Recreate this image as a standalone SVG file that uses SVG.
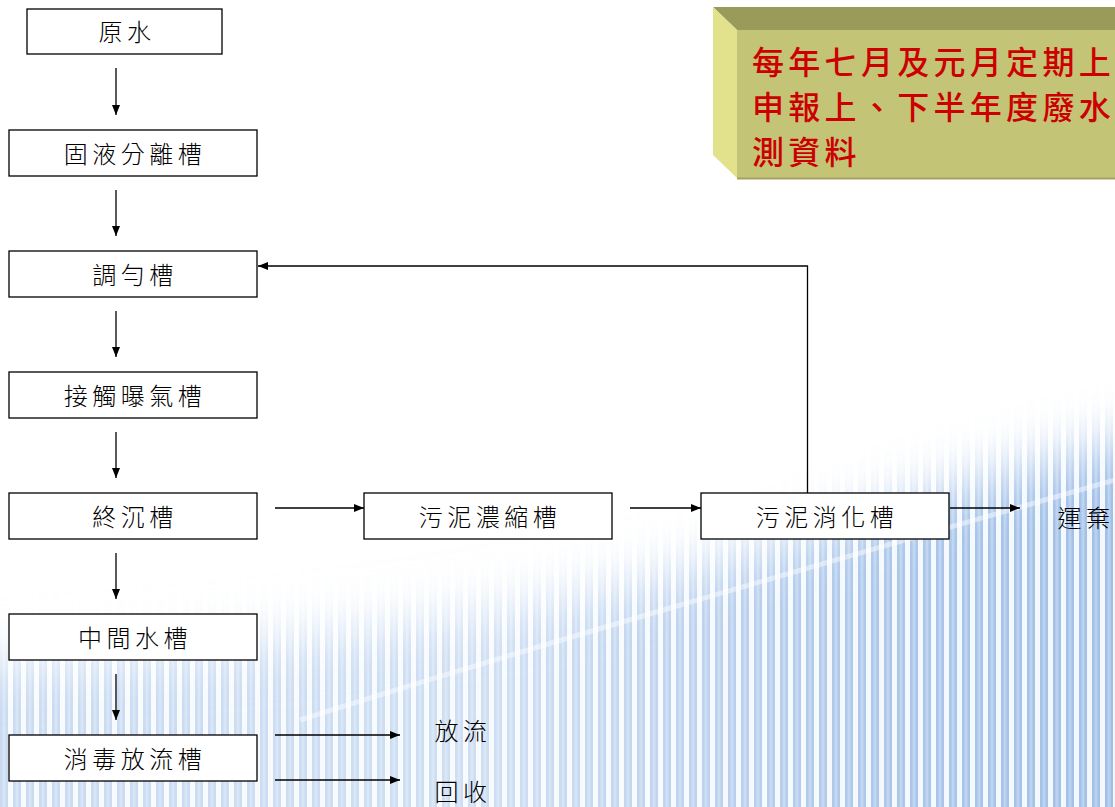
<svg xmlns="http://www.w3.org/2000/svg" width="1115" height="807" viewBox="0 0 1115 807">
<style>
.box{fill:#ffffff;stroke:#000;stroke-width:1.3}
.lbl{font-family:"Noto Sans CJK TC","Noto Sans CJK SC",sans-serif;font-size:24px;font-weight:300;fill:#000;letter-spacing:4.5px;text-anchor:middle}
.ln{fill:none;stroke:#000;stroke-width:1.3}
.call{font-family:"Noto Sans CJK TC","Noto Sans CJK SC",sans-serif;font-size:32px;font-weight:500;fill:#cc0000;letter-spacing:4.3px}
</style>
<defs>
<marker id="ah" viewBox="0 0 10 8" refX="10" refY="4" markerWidth="10" markerHeight="8" markerUnits="userSpaceOnUse" orient="auto">
<path d="M0,0 L10,4 L0,8 Z" fill="#000"/>
</marker>
<pattern id="stripes" width="13" height="20" patternUnits="userSpaceOnUse">
<rect width="13" height="20" fill="#f2f8fd"/>
<rect x="0" width="8" height="20" fill="#9dbce6"/>
<rect x="2.5" width="3" height="20" fill="#b6cfef"/>
</pattern>
<linearGradient id="fadeX" x1="0" y1="0" x2="1" y2="0">
<stop offset="0" stop-color="#fff" stop-opacity="0.55"/>
<stop offset="0.45" stop-color="#fff" stop-opacity="0.5"/>
<stop offset="0.8" stop-color="#fff" stop-opacity="0.85"/>
<stop offset="1" stop-color="#fff" stop-opacity="0.95"/>
</linearGradient>
<filter id="soft" x="-0.2" y="-0.5" width="1.4" height="2">
<feGaussianBlur stdDeviation="28"/>
</filter>
<mask id="shapeMask" maskUnits="userSpaceOnUse" x="0" y="0" width="1115" height="807">
<path d="M-100,670 C250,650 450,625 650,580 C820,535 980,465 1215,425 L1215,900 L-100,900 Z" fill="#fff" filter="url(#soft)"/>
</mask>
<mask id="xMask" maskUnits="userSpaceOnUse" x="0" y="0" width="1115" height="807">
<rect width="1115" height="807" fill="url(#fadeX)"/>
</mask>
</defs>
<rect width="1115" height="807" fill="#ffffff"/>
<g id="background" mask="url(#shapeMask)">
<rect x="0" y="380" width="1115" height="427" fill="url(#stripes)" mask="url(#xMask)"/>
<path d="M300,720 C520,650 800,570 1115,480" fill="none" stroke="#ffffff" stroke-width="5" opacity="0.45"/>
</g>
<g id="callout">
<polygon points="713,7 1115,7 1115,30 737,30" fill="#9a9a5a"/>
<polygon points="713,7 737,30 737,178 713,155" fill="#e2e28c"/>
<rect x="737" y="30" width="378" height="148" fill="#c4c476"/>
<line x1="737" y1="178.5" x2="1115" y2="178.5" stroke="#a3a35e" stroke-width="2"/>
<text class="call" x="752" y="74">每年七月及元月定期上</text>
<text class="call" x="752" y="119">申報上、下半年度廢水</text>
<text class="call" x="752" y="164">測資料</text>
</g>
<g id="connectors">
<line class="ln" x1="116" y1="68" x2="116" y2="115" marker-end="url(#ah)"/>
<line class="ln" x1="116" y1="190" x2="116" y2="236" marker-end="url(#ah)"/>
<line class="ln" x1="116" y1="311" x2="116" y2="357" marker-end="url(#ah)"/>
<line class="ln" x1="116" y1="432" x2="116" y2="478" marker-end="url(#ah)"/>
<line class="ln" x1="116" y1="553" x2="116" y2="599" marker-end="url(#ah)"/>
<line class="ln" x1="116" y1="674" x2="116" y2="720" marker-end="url(#ah)"/>
<line class="ln" x1="275" y1="508" x2="364" y2="508" marker-end="url(#ah)"/>
<line class="ln" x1="630" y1="508" x2="701" y2="508" marker-end="url(#ah)"/>
<line class="ln" x1="950" y1="508" x2="1020" y2="508" marker-end="url(#ah)"/>
<polyline class="ln" points="807.5,493 807.5,266 258,266" marker-end="url(#ah)"/>
<line class="ln" x1="275" y1="735" x2="400" y2="735" marker-end="url(#ah)"/>
<line class="ln" x1="275" y1="780" x2="400" y2="780" marker-end="url(#ah)"/>
</g>
<g id="n-yuanshui"><rect class="box" x="27" y="9" width="195" height="45"/><text class="lbl" x="127" y="41">原水</text></g>
<g id="n-guye"><rect class="box" x="9" y="130" width="248" height="46"/><text class="lbl" x="135" y="163">固液分離槽</text></g>
<g id="n-tiaoyun"><rect class="box" x="9" y="251" width="248" height="46"/><text class="lbl" x="135" y="284">調勻槽</text></g>
<g id="n-jiechu"><rect class="box" x="9" y="372" width="248" height="46"/><text class="lbl" x="135" y="405">接觸曝氣槽</text></g>
<g id="n-zhongchen"><rect class="box" x="9" y="493" width="248" height="46"/><text class="lbl" x="135" y="526">終沉槽</text></g>
<g id="n-zhongjian"><rect class="box" x="9" y="614" width="248" height="46"/><text class="lbl" x="135" y="647">中間水槽</text></g>
<g id="n-xiaodu"><rect class="box" x="9" y="735" width="248" height="46"/><text class="lbl" x="135" y="768">消毒放流槽</text></g>
<g id="n-nongsuo"><rect class="box" x="364" y="493" width="248" height="46"/><text class="lbl" x="490" y="526">污泥濃縮槽</text></g>
<g id="n-xiaohua"><rect class="box" x="701" y="493" width="248" height="46"/><text class="lbl" x="827" y="526">污泥消化槽</text></g>
<g id="n-yunqi"><text class="lbl" x="1086" y="527">運棄</text></g>
<g id="n-fangliu"><text class="lbl" x="463" y="740">放流</text></g>
<g id="n-huishou"><text class="lbl" x="463" y="801">回收</text></g>
</svg>
